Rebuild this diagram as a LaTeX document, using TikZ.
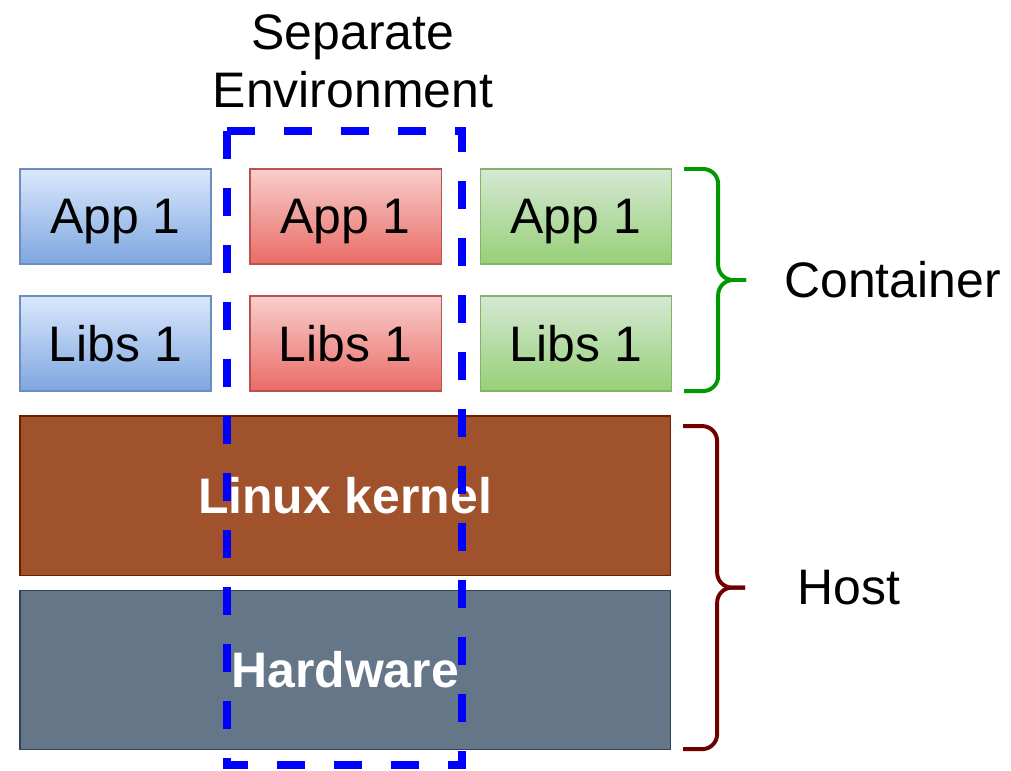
\documentclass[tikz,border=0pt]{standalone}
\usepackage{fontspec}
\setmainfont{Liberation Sans}
\usetikzlibrary{positioning,calc}

\definecolor{blueTop}{HTML}{DAE8FC}
\definecolor{blueBot}{HTML}{7EA6E0}
\definecolor{blueLine}{HTML}{6C8EBF}
\definecolor{redTop}{HTML}{F8CECC}
\definecolor{redBot}{HTML}{EA6B66}
\definecolor{redLine}{HTML}{B85450}
\definecolor{greenTop}{HTML}{D5E8D4}
\definecolor{greenBot}{HTML}{97D077}
\definecolor{greenLine}{HTML}{82B366}
\definecolor{kernelFill}{HTML}{A0522D}
\definecolor{kernelLine}{HTML}{6D1F00}
\definecolor{hwFill}{HTML}{647687}
\definecolor{hwLine}{HTML}{314354}
\definecolor{curlyGreen}{HTML}{009900}
\definecolor{curlyRed}{HTML}{6F0000}

\tikzset{
  bigfont/.style={font=\fontsize{35.5}{41}\selectfont},
  layer/.style={bigfont, draw, line width=0.8pt, minimum width=4.775cm, minimum height=2.375cm, inner sep=0pt, outer sep=0pt, text depth=0pt},
  bluebox/.style={layer, draw=blueLine, top color=blueTop, bottom color=blueBot},
  redbox/.style={layer, draw=redLine, top color=redTop, bottom color=redBot},
  greenbox/.style={layer, draw=greenLine, top color=greenTop, bottom color=greenBot},
  hostbox/.style={bigfont, draw, line width=0.8pt, minimum width=16.25cm, minimum height=3.975cm, inner sep=0pt, outer sep=0pt, text depth=0pt, text=white},
  curly/.style={line width=2.8pt, rounded corners=0.375cm},
  sepbox/.style={draw=blue, line width=5.7pt, dash pattern=on 0.7cm off 0.725cm}
}

\begin{document}
\begin{tikzpicture}[x=0.025cm, y=-0.025cm]
  \useasboundingbox (0,0) rectangle (1011,770);

  \node[bluebox] (appB) at (115.5,216.5) {App 1};
  \node[bluebox, below=0.8cm of appB] (libsB) {Libs 1};
  \node[redbox, right=0.975cm of appB] (appR) {App 1};
  \node[redbox, below=0.8cm of appR] (libsR) {Libs 1};
  \node[greenbox, right=0.975cm of appR] (appG) {App 1};
  \node[greenbox, below=0.8cm of appG] (libsG) {Libs 1};

  \node[hostbox, draw=kernelLine, fill=kernelFill, below right=0.625cm and 0cm of libsB.south west, anchor=north west] (kernel) {\bfseries Linux kernel};
  \node[hostbox, draw=hwLine, fill=hwFill, below=0.375cm of kernel] (hardware) {\bfseries Hardware};

  \draw[sepbox] (227,131) rectangle (462,765);
  \node[bigfont, align=center] (sep) at (353,61) {Separate\\Environment};

  \coordinate (ctip) at ($(appG.north east)!.5!(libsG.south east)+(75,0)$);
  \draw[curly, draw=curlyGreen] ($(appG.north east)+(13,0)$) -| ($(ctip)+(-28,0)$) -- (ctip);
  \draw[curly, draw=curlyGreen] ($(libsG.south east)+(13,0)$) -| ($(ctip)+(-28,0)$) -- (ctip);
  \node[bigfont, anchor=west, inner sep=0pt] (container) at ($(ctip)+(38,0)$) {Container};

  \coordinate (htip) at ($(kernel.north east)!.5!(hardware.south east)+(75,5)$);
  \draw[curly, draw=curlyRed] ($(kernel.north east)+(13,10)$) -| ($(htip)+(-28,0)$) -- (htip);
  \draw[curly, draw=curlyRed] ($(hardware.south east)+(13,0)$) -| ($(htip)+(-28,0)$) -- (htip);
  \node[bigfont, anchor=west, inner sep=0pt] (host) at ($(htip)+(52,0)$) {Host};
\end{tikzpicture}
\end{document}
